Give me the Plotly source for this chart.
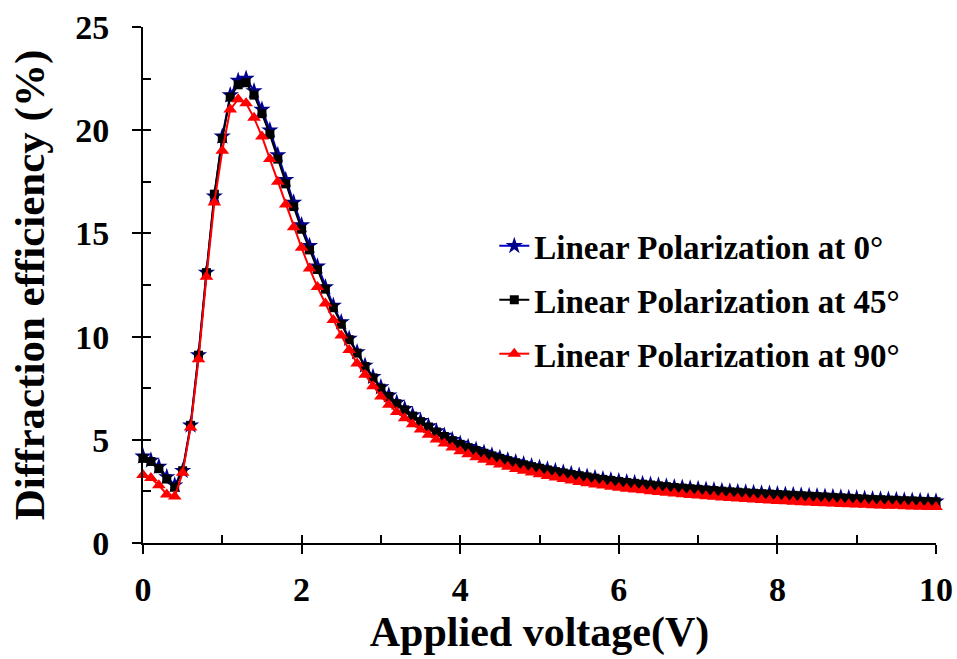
import plotly.graph_objects as go

# Applied voltage sweep (V), 0.1 V steps
voltage = [round(i * 0.1, 1) for i in range(101)]

# Diffraction efficiency (%) for each input polarization
eff_0deg = [
    4.2, 4.0, 3.7, 3.2, 2.8, 3.5, 5.7, 9.1, 13.1, 16.8,
    19.7, 21.7, 22.4, 22.5, 21.9, 21.0, 20.0, 18.8, 17.6, 16.5,
    15.4, 14.4, 13.4, 12.4, 11.5, 10.7, 9.9, 9.25, 8.6, 8.05,
    7.55, 7.15, 6.8, 6.5, 6.2, 5.92, 5.66, 5.42, 5.2, 5.0,
    4.82, 4.66, 4.52, 4.38, 4.25, 4.13, 4.02, 3.92, 3.82, 3.73,
    3.65, 3.57, 3.49, 3.42, 3.35, 3.28, 3.22, 3.16, 3.10, 3.05,
    3.0, 2.95, 2.91, 2.87, 2.83, 2.79, 2.75, 2.71, 2.68, 2.65,
    2.62, 2.59, 2.56, 2.53, 2.50, 2.48, 2.45, 2.43, 2.41, 2.39,
    2.37, 2.35, 2.33, 2.31, 2.29, 2.27, 2.25, 2.23, 2.21, 2.19,
    2.17, 2.15, 2.13, 2.12, 2.10, 2.09, 2.07, 2.06, 2.04, 2.03,
    2.02,
]
eff_45deg = [
    4.1, 3.95, 3.6, 3.1, 2.7, 3.5, 5.7, 9.1, 13.1, 16.9,
    19.6, 21.6, 22.2, 22.3, 21.7, 20.8, 19.8, 18.6, 17.4, 16.3,
    15.2, 14.2, 13.25, 12.3, 11.4, 10.6, 9.85, 9.2, 8.55, 8.0,
    7.5, 7.1, 6.75, 6.45, 6.15, 5.88, 5.62, 5.38, 5.16, 4.96,
    4.78, 4.62, 4.48, 4.35, 4.22, 4.1, 3.99, 3.89, 3.79, 3.7,
    3.62, 3.54, 3.46, 3.39, 3.32, 3.26, 3.2, 3.14, 3.08, 3.03,
    2.98, 2.93, 2.89, 2.85, 2.81, 2.77, 2.73, 2.69, 2.66, 2.63,
    2.6, 2.57, 2.54, 2.51, 2.48, 2.46, 2.43, 2.41, 2.39, 2.37,
    2.35, 2.33, 2.31, 2.29, 2.27, 2.25, 2.23, 2.21, 2.19, 2.17,
    2.15, 2.13, 2.11, 2.1, 2.08, 2.07, 2.05, 2.04, 2.02, 2.01,
    2.0,
]
eff_90deg = [
    3.3, 3.15, 2.8, 2.35, 2.25, 3.4, 5.6, 8.9, 12.9, 16.5,
    19.0, 21.0, 21.5, 21.3, 20.6, 19.7, 18.6, 17.5, 16.4, 15.3,
    14.3, 13.3, 12.4, 11.6, 10.8, 10.05, 9.35, 8.7, 8.15, 7.6,
    7.1, 6.7, 6.35, 6.05, 5.75, 5.5, 5.25, 5.02, 4.82, 4.63,
    4.45, 4.3, 4.16, 4.03, 3.91, 3.8, 3.69, 3.59, 3.5, 3.41,
    3.33, 3.25, 3.17, 3.1, 3.03, 2.96, 2.9, 2.84, 2.78, 2.73,
    2.68, 2.63, 2.59, 2.55, 2.51, 2.47, 2.43, 2.4, 2.36, 2.33,
    2.3, 2.27, 2.24, 2.21, 2.18, 2.16, 2.13, 2.11, 2.08, 2.06,
    2.04, 2.02, 2.0, 1.98, 1.96, 1.94, 1.93, 1.91, 1.89, 1.88,
    1.86, 1.85, 1.83, 1.82, 1.81, 1.8, 1.78, 1.77, 1.76, 1.75,
    1.74,
]

labels = [
    "Linear Polarization at 0°",
    "Linear Polarization at 45°",
    "Linear Polarization at 90°",
]

FONT = "Times New Roman, Liberation Serif, DejaVu Serif, serif"

fig = go.Figure()
fig.add_trace(go.Scatter(
    x=voltage, y=eff_0deg, name=labels[0], mode="lines+markers",
    line=dict(color="#0000CC", width=2),
    marker=dict(symbol="star", size=13, color="#00008B"),
    cliponaxis=False, legendgroup="a",
))
fig.add_trace(go.Scatter(
    x=voltage, y=eff_45deg, name=labels[1], mode="lines+markers",
    line=dict(color="black", width=2),
    marker=dict(symbol="square", size=9, color="black"),
    cliponaxis=False, legendgroup="b",
))
fig.add_trace(go.Scatter(
    x=voltage, y=eff_90deg, name=labels[2], mode="lines+markers",
    line=dict(color="#FF0000", width=2),
    marker=dict(symbol="triangle-up", size=12, color="#FF0000"),
    cliponaxis=False, legendgroup="c", xaxis="x2", yaxis="y2",
))

tickfont = dict(family=FONT, size=34, color="black", weight="bold")

fig.update_layout(
    width=957, height=659,
    margin=dict(l=143, r=21, t=27, b=116),
    paper_bgcolor="white", plot_bgcolor="white",
    font=dict(family=FONT),
    showlegend=True,
    legend=dict(
        x=0.443, y=0.63, xanchor="left", yanchor="top",
        font=dict(family=FONT, size=33, color="black", weight="bold"),
        bgcolor="rgba(0,0,0,0)", tracegroupgap=8,
    ),
    xaxis=dict(
        range=[0, 10], tickvals=[0, 2, 4, 6, 8, 10],
        ticks="outside", ticklen=9, tickwidth=2, tickcolor="black",
        showline=True, linecolor="black", linewidth=2,
        showgrid=False, zeroline=False, tickfont=tickfont,
        ticklabelstandoff=6, automargin=False,
        title=dict(text="Applied voltage(V)", standoff=10,
                   font=dict(family=FONT, size=42, color="black", weight="bold")),
    ),
    yaxis=dict(
        range=[0, 25], tickvals=[0, 5, 10, 15, 20, 25],
        ticks="outside", ticklen=9, tickwidth=2, tickcolor="black",
        showline=True, linecolor="black", linewidth=2,
        showgrid=False, zeroline=False, tickfont=tickfont,
        ticklabelstandoff=16, automargin=False,
        title=dict(text="Diffraction efficiency (%)", standoff=17,
                   font=dict(family=FONT, size=43, color="black", weight="bold")),
    ),
    # overlay axes carry the inward-facing major and minor ticks
    xaxis2=dict(
        range=[0, 10], overlaying="x", side="bottom",
        tickvals=list(range(11)), ticks="inside", ticklen=8, tickwidth=2,
        tickcolor="black", showticklabels=False, showline=False,
        showgrid=False, zeroline=False, automargin=False,
    ),
    yaxis2=dict(
        range=[0, 25], overlaying="y", side="left",
        tickvals=[i * 2.5 for i in range(11)], ticks="inside", ticklen=8,
        tickwidth=2, tickcolor="black", showticklabels=False,
        showline=False, showgrid=False, zeroline=False, automargin=False,
    ),
)

fig.write_html("out.html")
